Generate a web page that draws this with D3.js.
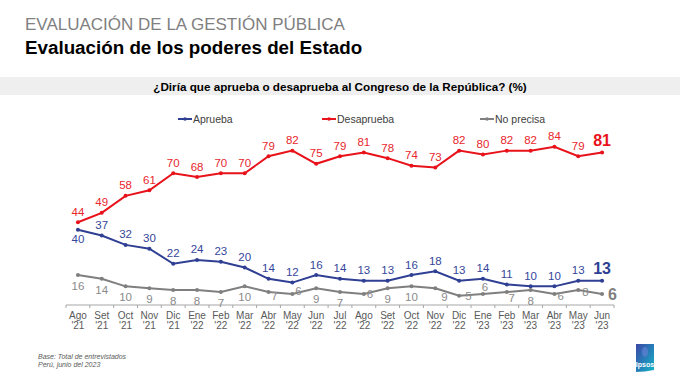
<!DOCTYPE html>
<html><head><meta charset="utf-8">
<script src="https://cdn.jsdelivr.net/npm/d3@7"></script>
<style>
body{margin:0;background:#fff;}
svg{display:block;font-family:Arial,"Liberation Sans",sans-serif;}
</style></head>
<body>
<svg id="chart" width="680" height="383"></svg>
<script>
const months = ["Ago","Set","Oct","Nov","Dic","Ene","Feb","Mar","Abr","May","Jun","Jul","Ago","Set","Oct","Nov","Dic","Ene","Feb","Mar","Abr","May","Jun"];
const years = ["'21","'21","'21","'21","'21","'22","'22","'22","'22","'22","'22","'22","'22","'22","'22","'22","'22","'23","'23","'23","'23","'23","'23"];
const aprueba = [40,37,32,30,22,24,23,20,14,12,16,14,13,13,16,18,13,14,11,10,10,13,13];
const desaprueba = [44,49,58,61,70,68,70,70,79,82,75,79,81,78,74,73,82,80,82,82,84,79,81];
const noPrecisa = [16,14,10,9,8,8,7,10,7,6,9,7,6,9,10,9,5,6,7,8,6,8,6];
const seriesNames = ["Aprueba","Desaprueba","No precisa"];

const svg = d3.select("#chart");
const W = 680, H = 383;

// Titles
svg.append("text").attr("x",25).attr("y",30).attr("font-size",17).attr("fill","#808080")
  .text("EVALUACIÓN DE LA GESTIÓN PÚBLICA");
svg.append("text").attr("x",25).attr("y",54).attr("font-size",18.8).attr("font-weight","bold").attr("fill","#000")
  .text("Evaluación de los poderes del Estado");

// question band
svg.append("rect").attr("x",0).attr("y",77).attr("width",W).attr("height",18).attr("fill","#efefef");
svg.append("text").attr("x",340).attr("y",90.5).attr("text-anchor","middle").attr("font-size",11.7)
  .attr("font-weight","bold").attr("fill","#000")
  .text("¿Diría que aprueba o desaprueba al Congreso de la República? (%)");

// scales
const idx = d3.range(months.length);
const x = d3.scaleBand().domain(idx).range([66,614]).padding(0);
const cx = i => x(i) + x.bandwidth()/2;
const y = d3.scaleLinear().domain([0,100]).range([305.2,116.7]);

const colors = {ap:"#2f3f93", de:"#e8121a", np:"#7f7f7f"};
const labelColors = {ap:"#34469a", de:"#e8262c", np:"#8a8a8a"};

// axis
const axisG = svg.append("g").attr("transform","translate(0,305)");
axisG.append("line").attr("x1",66).attr("x2",614).attr("y1",0).attr("y2",0).attr("stroke","#a6a6a6").attr("stroke-width",1);
axisG.selectAll("line.tk").data(d3.range(months.length+1)).join("line").attr("class","tk")
  .attr("x1",d=> d<months.length ? x(d) : x(months.length-1)+x.bandwidth())
  .attr("x2",d=> d<months.length ? x(d) : x(months.length-1)+x.bandwidth())
  .attr("y1",0).attr("y2",3).attr("stroke","#a6a6a6");
axisG.selectAll("text.m").data(idx).join("text").attr("class","m")
  .attr("x",cx).attr("y",14).attr("text-anchor","middle").attr("font-size",10).attr("fill","#595959")
  .text(i=>months[i]);
axisG.selectAll("text.yr").data(idx).join("text").attr("class","yr")
  .attr("x",cx).attr("y",24).attr("text-anchor","middle").attr("font-size",10).attr("fill","#595959")
  .text(i=>years[i]);

// lines
const line = vals => d3.line().x(cx).y(i=>y(vals[i]))(idx);
function drawSeries(vals, key){
  svg.append("path").attr("d",line(vals)).attr("fill","none").attr("stroke",colors[key]).attr("stroke-width",2);
  svg.append("g").selectAll("circle").data(idx).join("circle")
    .attr("cx",cx).attr("cy",i=>y(vals[i])).attr("r",2).attr("fill",colors[key]);
}
drawSeries(noPrecisa,"np");
drawSeries(aprueba,"ap");
drawSeries(desaprueba,"de");

// labels
function drawLabels(vals,key,placer){
  const last = vals.length-1;
  svg.append("g").selectAll("text").data(idx).join("text")
    .attr("x",i=>cx(i)+placer(i)[0])
    .attr("y",i=>y(vals[i])+placer(i)[1])
    .attr("text-anchor",i=>placer(i)[2]||"middle")
    .attr("dominant-baseline","central")
    .attr("font-size",i=> i===last?16:11.5)
    .attr("font-weight",i=> i===last?"bold":"normal")
    .attr("fill",i=> i===last? colors[key] : labelColors[key])
    .text(i=>vals[i]);
}
drawLabels(desaprueba,"de",i=> i===22?[0,-12]:[0,-10.5]);
drawLabels(aprueba,"ap",i=> i===0?[0,9.5]: i===22?[0,-12]:[0,-10.5]);
const npPlace = {8:[6,4],9:[6,-3],12:[3,0,"start"],15:[6,9,"start"],16:[6,0,"start"],17:[2,-7],18:[5,6],20:[3,2,"start"],21:[4,2,"start"],22:[6,1,"start"]};
drawLabels(noPrecisa,"np",i=> npPlace[i] || [0,11]);

// legend
const legend = [
  {name:seriesNames[0], key:"ap", x:178},
  {name:seriesNames[1], key:"de", x:322},
  {name:seriesNames[2], key:"np", x:480}
];
const lg = svg.append("g");
legend.forEach(l=>{
  lg.append("line").attr("x1",l.x).attr("x2",l.x+14).attr("y1",119).attr("y2",119).attr("stroke",colors[l.key]).attr("stroke-width",2);
  lg.append("circle").attr("cx",l.x+7).attr("cy",119).attr("r",1.8).attr("fill",colors[l.key]);
  lg.append("text").attr("x",l.x+15).attr("y",119).attr("dominant-baseline","central").attr("font-size",10.5).attr("fill","#404040").text(l.name);
});

// footnote
svg.append("text").attr("x",38).attr("y",359).attr("font-size",7).attr("font-style","italic").attr("fill","#595959").text("Base: Total de entrevistados");
svg.append("text").attr("x",38).attr("y",367).attr("font-size",7).attr("font-style","italic").attr("fill","#595959").text("Perú, junio del 2023");

// logo
const defs = svg.append("defs");
const gr = defs.append("linearGradient").attr("id","lg").attr("x1","0").attr("y1","0").attr("x2","1").attr("y2","1");
gr.append("stop").attr("offset","0").attr("stop-color","#3b47a8");
gr.append("stop").attr("offset","1").attr("stop-color","#14b5c8");
svg.append("path").attr("d","M636,344 L654,344 L654,370 Q645,372 636,372 Z").attr("fill","url(#lg)");
svg.append("ellipse").attr("cx",645).attr("cy",352).attr("rx",3).attr("ry",5).attr("fill","#5a7fd0").attr("opacity",0.8);
svg.append("text").attr("x",645).attr("y",367).attr("text-anchor","middle").attr("font-size",7).attr("font-weight","bold").attr("fill","#fff").text("Ipsos");
</script>
</body></html>
